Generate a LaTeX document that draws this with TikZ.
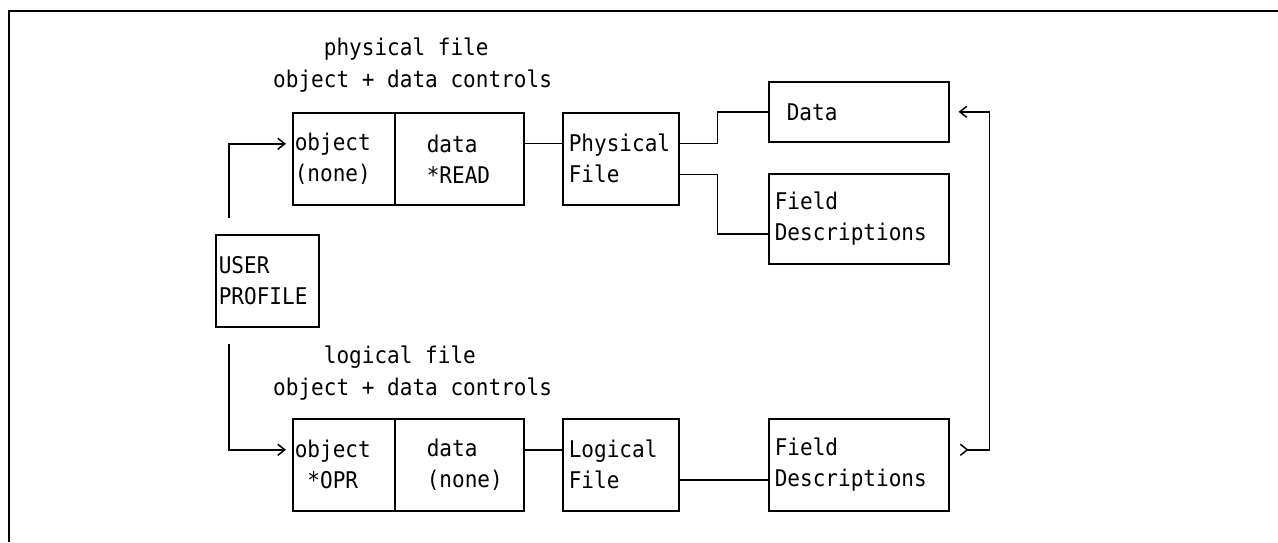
\documentclass[tikz,border=0pt]{standalone}
\usepackage{fontspec}
\setmonofont[FakeStretch=0.915]{DejaVu Sans Mono}
\usetikzlibrary{arrows.meta}
\begin{document}
\begin{tikzpicture}[x=1pt,y=-1pt,
  every node/.style={font=\ttfamily\fontsize{23}{31}\selectfont},
  bx/.style={draw, line width=1.6pt, anchor=north west, align=left, inner ysep=0pt},
  conn/.style={line width=1.5pt},
  arr/.style={conn, -{Straight Barb[length=7pt,width=11pt]}},
  hdr/.style={anchor=west, align=left, inner sep=0pt, font=\ttfamily\fontsize{23}{32}\selectfont}]
\useasboundingbox (0,0) rectangle (1278,542);
\draw[line width=2pt] (1278,11) -- (9,11) -- (9,542);

\node[hdr] (hP) at (273,65) {\phantom{xxxx}physical file\\object + data controls};
\node[hdr] (hL) at (273,373) {\phantom{xxxx}logical file\\object + data controls};

\node[bx, text width=98pt, inner xsep=2pt, minimum height=92pt] (objT) at (292,112) {object\\(none)};
\node[bx, text width=65pt, inner xsep=32pt, minimum height=92pt] (dataT) at (394,112) {data\\{*READ}};
\node[bx, text width=104pt, inner xsep=6pt, minimum height=92pt] (physT) at (562,112) {Physical\\File};
\node[bx, text width=144pt, inner xsep=18pt, minimum height=60pt] (dataR) at (768,81) {Data};
\node[bx, text width=168pt, inner xsep=6pt, minimum height=90pt] (fieldT) at (768,173) {Field\\Descriptions};

\node[bx, text width=97pt, inner xsep=3pt, minimum height=92pt] (user) at (215,234) {USER\\PROFILE};

\node[bx, text width=98pt, inner xsep=2pt, minimum height=92pt] (objL) at (292,418) {object\\\phantom{x}*OPR};
\node[bx, text width=65pt, inner xsep=32pt, minimum height=92pt] (dataL) at (394,418) {data\\(none)};
\node[bx, text width=104pt, inner xsep=6pt, minimum height=92pt] (logL) at (562,418) {Logical\\File};
\node[bx, text width=168pt, inner xsep=6pt, minimum height=92pt] (fieldL) at (768,418) {Field\\Descriptions};

\draw[conn] ([yshift=15.5pt]dataT.east) -- ([yshift=15.5pt]physT.west);
\draw[conn] ([yshift=15.5pt]physT.east) -- ++(38pt,0) |- (dataR.west);
\draw[conn] ([yshift=-15.5pt]physT.east) -- ++(38pt,0) |- ([yshift=-15pt]fieldT.west);
\draw[arr] ([xshift=14pt,yshift=16pt]user.north west) |- ([xshift=-6pt,yshift=15pt]objT.west);
\draw[arr] ([xshift=14pt,yshift=-16pt]user.south west) |- ([xshift=-6pt,yshift=15pt]objL.west);
\draw[conn] ([yshift=15pt]dataL.east) -- ([yshift=15pt]logL.west);
\draw[conn] ([yshift=-15pt]logL.east) -- ([yshift=-15pt]fieldL.west);
\draw[conn, {Straight Barb[reversed,length=7pt,width=11pt]}-{Straight Barb[length=7pt,width=11pt]}]
  ([xshift=10pt,yshift=15pt]fieldL.east) -| ([xshift=40pt]dataR.east) -- ([xshift=9pt]dataR.east);
\end{tikzpicture}
\end{document}
